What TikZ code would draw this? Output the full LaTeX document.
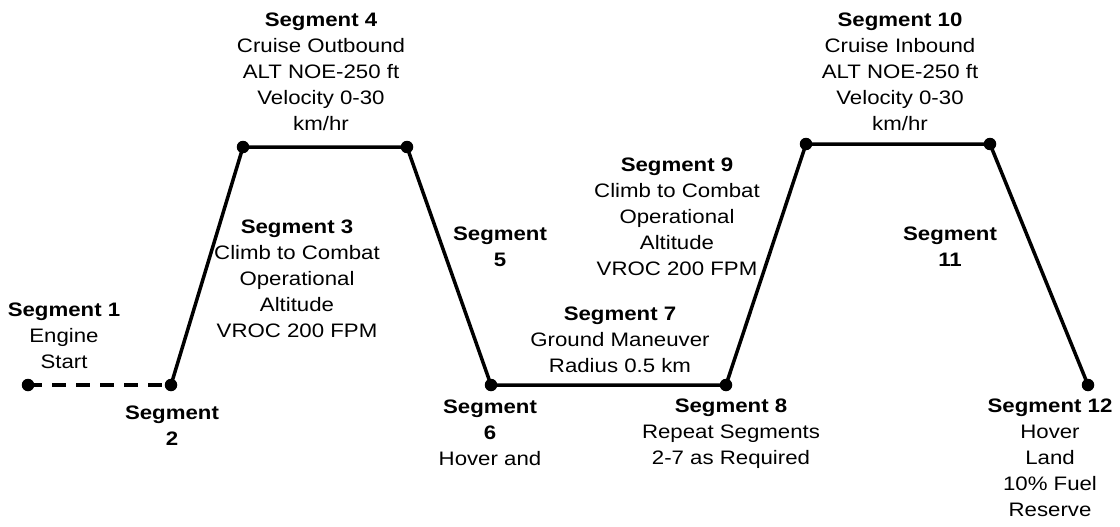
\documentclass[tikz,border=0pt]{standalone}
\usepackage{fontspec}
\setmainfont{Liberation Sans}[FakeStretch=1.14]
\begin{document}
\begin{tikzpicture}[x=1pt,y=-1pt,
  path/.style={line width=3.5pt,black},
  dot/.style={circle,fill=black,inner sep=0pt,minimum size=12.5pt},
  lbl/.style={align=center,anchor=north,inner sep=0pt,font=\fontsize{19.5}{26}\selectfont}]
\useasboundingbox (0,0) rectangle (1120,527);
\node[dot] (p1) at (28,385) {};
\node[dot] (p2) at (171,385) {};
\node[dot] (p3) at (243,147) {};
\node[dot] (p4) at (407,147) {};
\node[dot] (p5) at (491,385) {};
\node[dot] (p6) at (726,385) {};
\node[dot] (p7) at (806,144) {};
\node[dot] (p8) at (990,144) {};
\node[dot] (p9) at (1088,385) {};
\draw[path,dash pattern=on 14pt off 10pt] (p1.center) -- (p2.center);
\draw[path] (p2.center) -- (p3.center) -- (p4.center) -- (p5.center) -- (p6.center) -- (p7.center) -- (p8.center) -- (p9.center);
\node[lbl] (s1) at (64,303) {\textbf{Segment 1}\\Engine\\Start};
\node[lbl] (s2) at (172,406) {\textbf{Segment}\\\textbf{2}};
\node[lbl] (s3) at (297,220) {\textbf{Segment 3}\\Climb to Combat\\Operational\\Altitude\\VROC 200 FPM};
\node[lbl] (s4) at (321,13) {\textbf{Segment 4}\\Cruise Outbound\\ALT NOE-250 ft\\Velocity 0-30\\km/hr};
\node[lbl] (s5) at (500,227) {\textbf{Segment}\\\textbf{5}};
\node[lbl] (s6) at (490,400) {\textbf{Segment}\\\textbf{6}\\Hover and};
\node[lbl] (s7) at (620,307) {\textbf{Segment 7}\\Ground Maneuver\\Radius 0.5 km};
\node[lbl] (s8) at (731,399) {\textbf{Segment 8}\\Repeat Segments\\2-7 as Required};
\node[lbl] (s9) at (677,158) {\textbf{Segment 9}\\Climb to Combat\\Operational\\Altitude\\VROC 200 FPM};
\node[lbl] (s10) at (900,13) {\textbf{Segment 10}\\Cruise Inbound\\ALT NOE-250 ft\\Velocity 0-30\\km/hr};
\node[lbl] (s11) at (950,227) {\textbf{Segment}\\\textbf{11}};
\node[lbl] (s12) at (1050,399) {\textbf{Segment 12}\\Hover\\Land\\10\% Fuel\\Reserve};
\end{tikzpicture}
\end{document}
